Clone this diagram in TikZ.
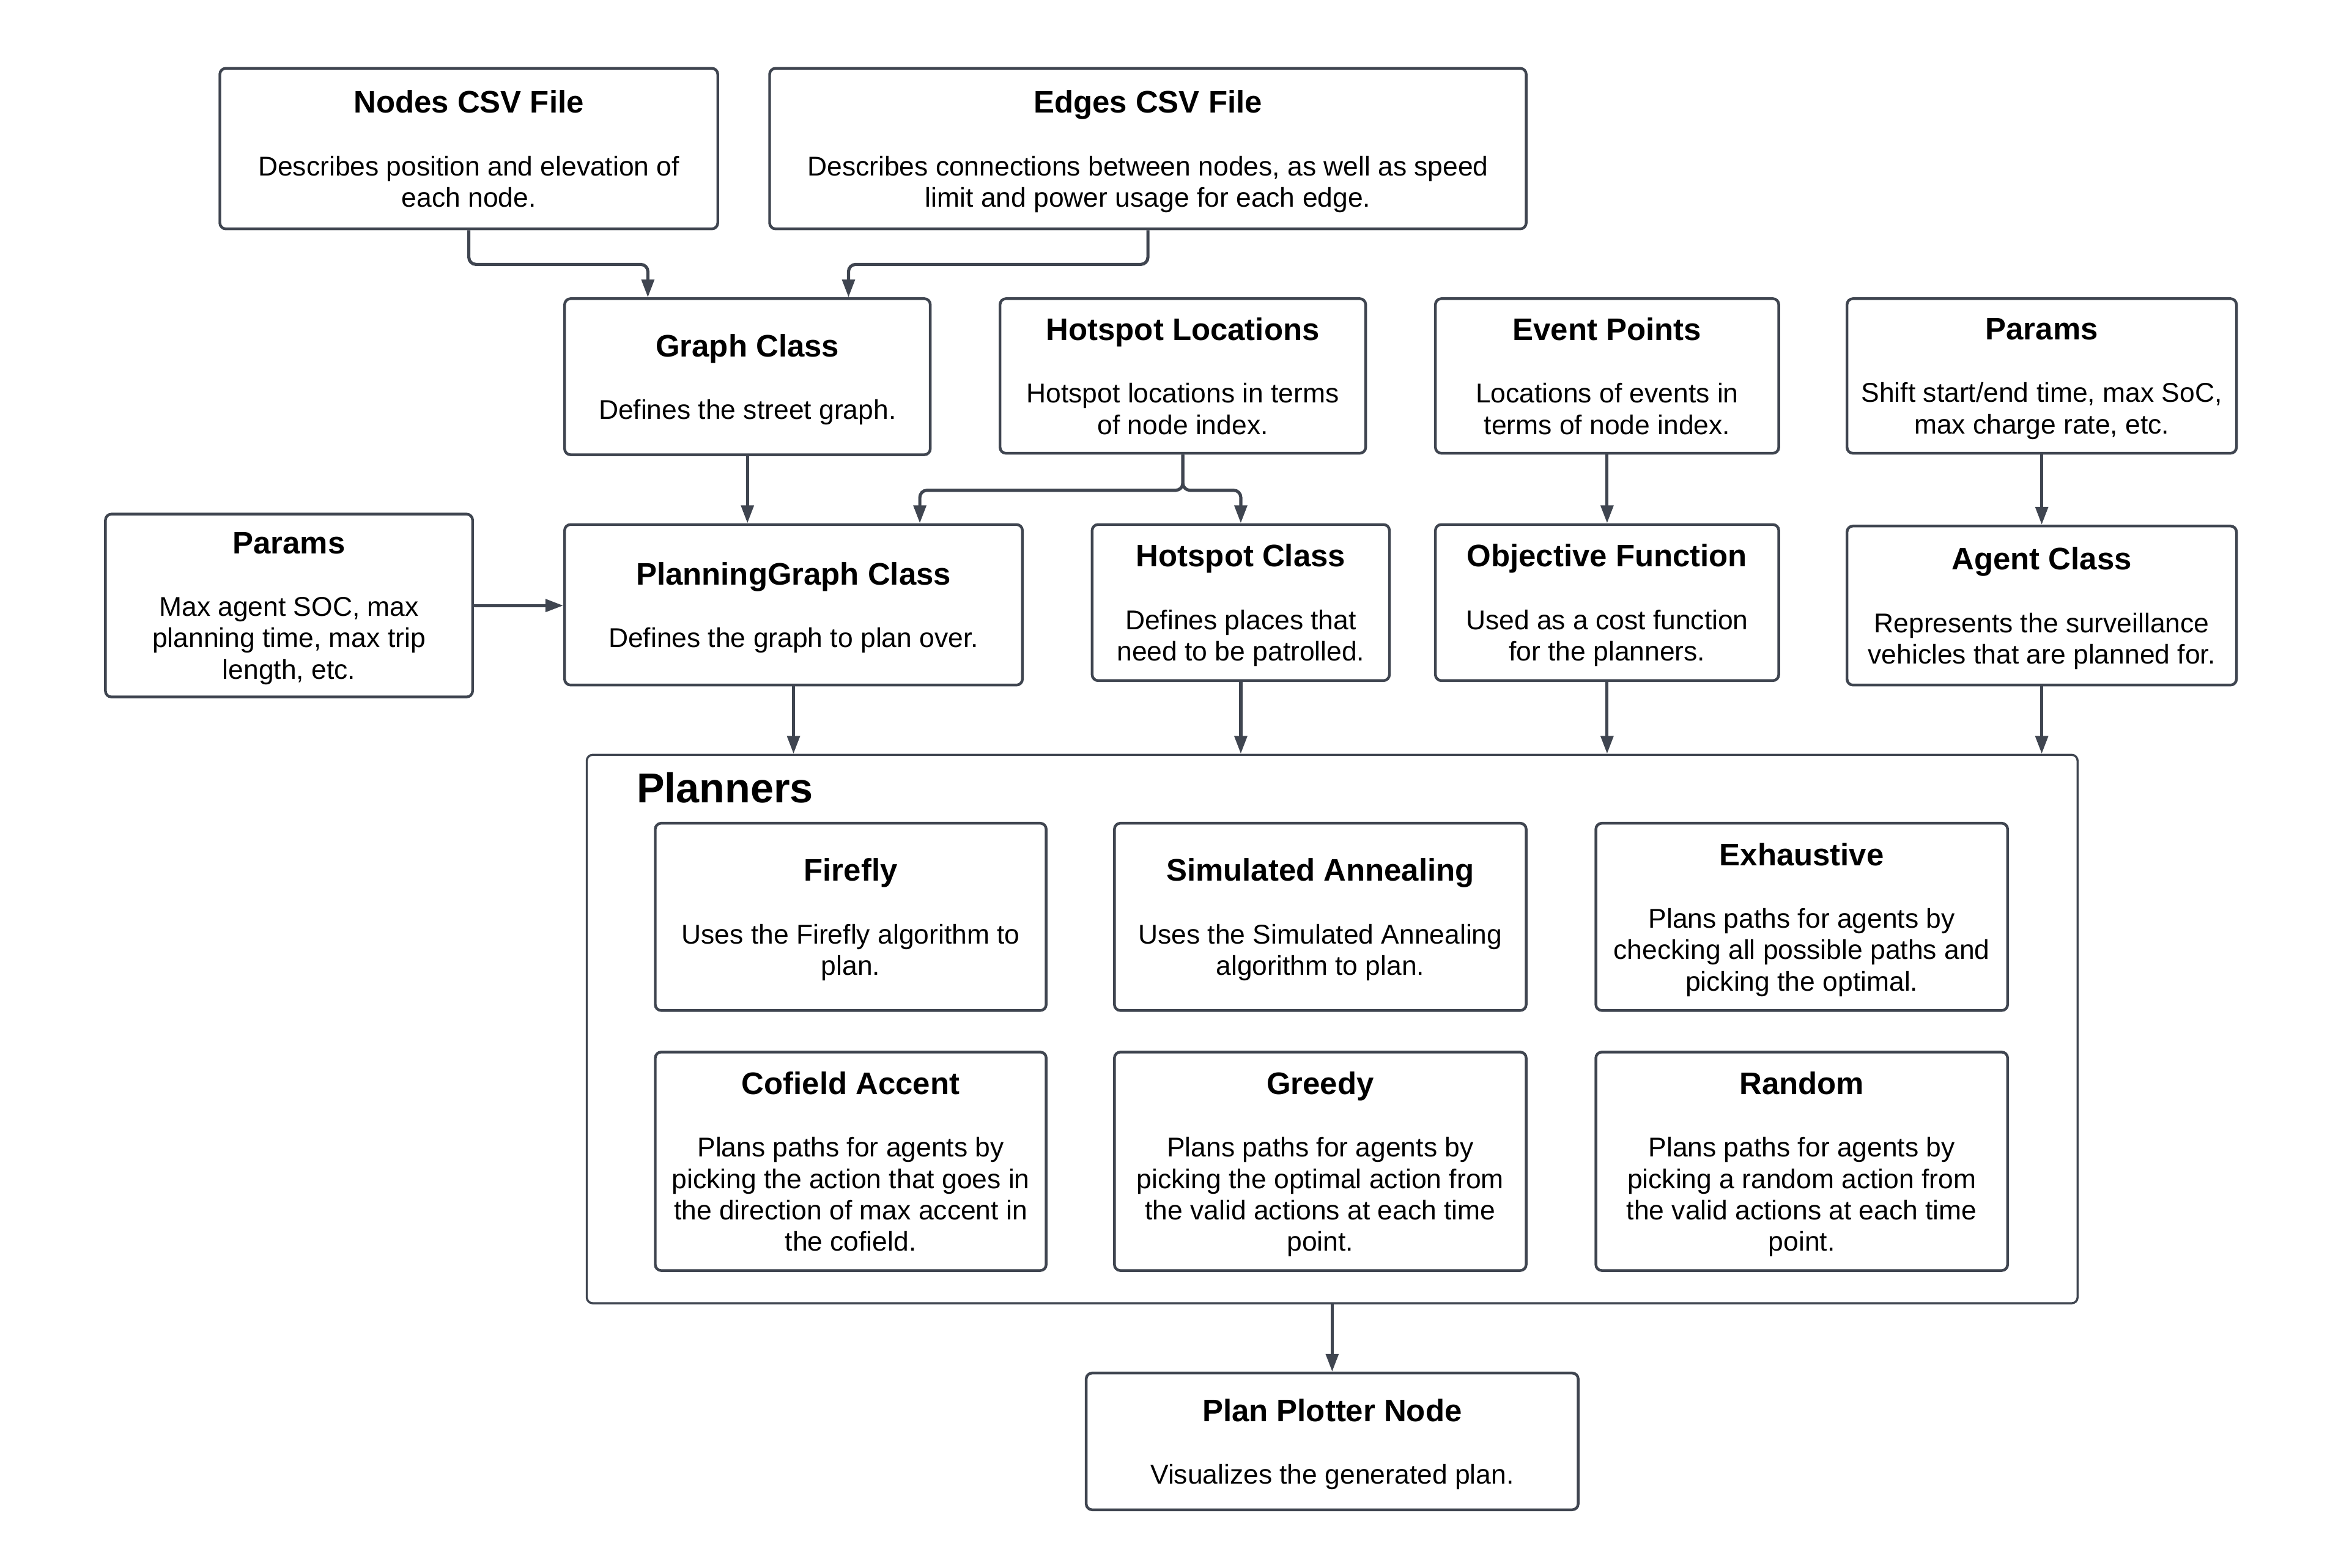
\documentclass[tikz,border=0pt]{standalone}
\usepackage{fontspec}
\setmainfont{Liberation Sans}
\usepackage{xcolor}
\usepackage{tikz}
\usetikzlibrary{arrows.meta}
\definecolor{lineslate}{HTML}{3F4550}
\newcommand{\boxtitle}[1]{{\bfseries\fontsize{14.9}{15}\selectfont #1}}

\begin{document}
\begin{tikzpicture}[x=0.025cm,y=-0.025cm,
        box/.style={rectangle,draw=lineslate,line width=1.3pt,rounded corners=0.1cm,
                    align=center,font=\fontsize{13}{15}\selectfont,inner sep=0pt,text depth=-3.5pt},
        link/.style={draw=lineslate,line width=1.5pt,rounded corners=0.12cm,
                     -{Triangle[length=0.3cm,width=0.21cm]}}]
      \useasboundingbox (0,0) rectangle (1568,1055);
      \node[box,minimum width=8.375cm,minimum height=2.7cm]  (nodescsv) at (315.5,100)
        {\boxtitle{Nodes CSV File}\\[15pt]Describes position and elevation of\\each node.};
      \node[box,minimum width=12.725cm,minimum height=2.7cm] (edgescsv) at (772.5,100)
        {\boxtitle{Edges CSV File}\\[15pt]Describes connections between nodes, as well as speed\\limit and power usage for each edge.};
      \node[box,minimum width=6.15cm,minimum height=2.625cm] (graph)    at (503,253.5)
        {\boxtitle{Graph Class}\\[15pt]Defines the street graph.};
      \node[box,minimum width=6.15cm,minimum height=2.6cm]   (hotloc)   at (796,253)
        {\boxtitle{Hotspot Locations}\\[15pt]Hotspot locations in terms\\of node index.};
      \node[box,minimum width=5.775cm,minimum height=2.6cm]  (events)   at (1081.5,253)
        {\boxtitle{Event Points}\\[15pt]Locations of events in\\terms of node index.};
      \node[box,minimum width=6.55cm,minimum height=2.6cm]   (agparams) at (1374,253)
        {\boxtitle{Params}\\[15pt]Shift start/end time, max SoC,\\max charge rate, etc.};
      \node[box,minimum width=6.175cm,minimum height=3.075cm](plparams) at (194.5,407.5)
        {\boxtitle{Params}\\[15pt]Max agent SOC, max\\planning time, max trip\\length, etc.};
      \node[box,minimum width=7.7cm,minimum height=2.7cm]    (pgraph)   at (534,407)
        {\boxtitle{PlanningGraph Class}\\[15pt]Defines the graph to plan over.};
      \node[box,minimum width=5cm,minimum height=2.625cm]    (hotcls)   at (835,405.5)
        {\boxtitle{Hotspot Class}\\[15pt]Defines places that\\need to be patrolled.};
      \node[box,minimum width=5.775cm,minimum height=2.625cm](objfun)   at (1081.5,405.5)
        {\boxtitle{Objective Function}\\[15pt]Used as a cost function\\for the planners.};
      \node[box,minimum width=6.55cm,minimum height=2.675cm] (agent)    at (1374,407.5)
        {\boxtitle{Agent Class}\\[15pt]Represents the surveillance\\vehicles that are planned for.};
      \node[box,line width=1pt,minimum width=25.075cm,minimum height=9.225cm] (planners) at (896.5,692.5) {};
      \node[anchor=west,font=\bfseries\fontsize{20}{24}\selectfont,inner sep=0pt] (plannerslbl)
        at ([xshift=0.85cm,yshift=-0.575cm]planners.north west) {Planners};
      \node[box,minimum width=6.575cm,minimum height=3.15cm] (firefly)  at (572.5,617)
        {\boxtitle{Firefly}\\[15pt]Uses the Firefly algorithm to\\plan.};
      \node[box,minimum width=6.925cm,minimum height=3.15cm] (simann)   at (888.5,617)
        {\boxtitle{Simulated Annealing}\\[15pt]Uses the Simulated Annealing\\algorithm to plan.};
      \node[box,minimum width=6.925cm,minimum height=3.15cm] (exhaust)  at (1212.5,617)
        {\boxtitle{Exhaustive}\\[15pt]Plans paths for agents by\\checking all possible paths and\\picking the optimal.};
      \node[box,minimum width=6.575cm,minimum height=3.675cm](cofield)  at (572.5,781.5)
        {\boxtitle{Cofield Accent}\\[15pt]Plans paths for agents by\\picking the action that goes in\\the direction of max accent in\\the cofield.};
      \node[box,minimum width=6.925cm,minimum height=3.675cm](greedy)   at (888.5,781.5)
        {\boxtitle{Greedy}\\[15pt]Plans paths for agents by\\picking the optimal action from\\the valid actions at each time\\point.};
      \node[box,minimum width=6.925cm,minimum height=3.675cm](random)   at (1212.5,781.5)
        {\boxtitle{Random}\\[15pt]Plans paths for agents by\\picking a random action from\\the valid actions at each time\\point.};
      \node[box,minimum width=8.275cm,minimum height=2.3cm]  (plotter)  at (896.5,970)
        {\boxtitle{Plan Plotter Node}\\[15pt]Visualizes the generated plan.};
      \draw[link] (nodescsv.south) -- ++(0,23) -| ([xshift=-1.675cm]graph.north);
      \draw[link] (edgescsv.south) -- ++(0,23) -| ([xshift=1.7cm]graph.north);
      \draw[link] (graph.south) -- (graph.south |- pgraph.north);
      \draw[link] (hotloc.south) -- ++(0,24) -| ([xshift=2.125cm]pgraph.north);
      \draw[link] (hotloc.south) -- ++(0,24) -| (hotcls.north);
      \draw[link] (events) -- (objfun);
      \draw[link] (agparams) -- (agent);
      \draw[link] (plparams.east) -- (plparams.east -| pgraph.west);
      \draw[link] (pgraph.south) -- (pgraph.south |- planners.north);
      \draw[link] (hotcls.south) -- (hotcls.south |- planners.north);
      \draw[link] (objfun.south) -- (objfun.south |- planners.north);
      \draw[link] (agent.south) -- (agent.south |- planners.north);
      \draw[link] (planners.south) -- (plotter.north);
    \end{tikzpicture}
\end{document}
